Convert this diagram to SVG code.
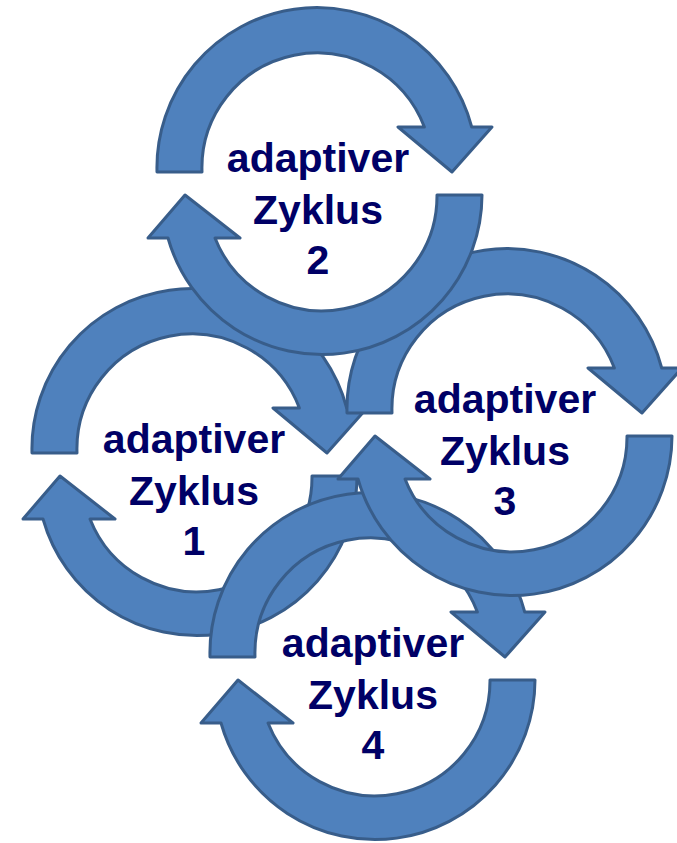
<svg xmlns="http://www.w3.org/2000/svg" xmlns:xlink="http://www.w3.org/1999/xlink" width="677" height="843" viewBox="0 0 677 843">
<style>
.arc{fill:#4F81BD;stroke:#385D8A;stroke-width:3;stroke-linejoin:round}
.lbl{font-family:"Liberation Sans",Arial,sans-serif;font-weight:bold;font-size:41px;fill:#000066;text-anchor:middle}
</style>
<defs>
<path id="arcTop" class="arc" d="M157,172 A160,160 0 0 1 471.7,127 L492,127 L452,172 L398,127 L424.4,127 A115,115 0 0 0 202,172 Z"/>
<path id="arcBot" class="arc" d="M482,195 A160,160 0 0 1 168,238 L148,238 L185,195 L240,238 L215,238 A115,115 0 0 0 437,195 Z"/>
</defs>
<rect width="677" height="843" fill="#ffffff"/>
<g id="cycle1" transform="translate(-125,281)">
<use href="#arcTop"/><use href="#arcBot"/>
<text class="lbl" x="319" y="172">adaptiver</text>
<text class="lbl" x="319" y="224">Zyklus</text>
<text class="lbl" x="319" y="274">1</text>
</g>
<g id="cycle4" transform="translate(53,485)">
<use href="#arcTop"/><use href="#arcBot"/>
<text class="lbl" x="320" y="172">adaptiver</text>
<text class="lbl" x="320" y="224">Zyklus</text>
<text class="lbl" x="320" y="274">4</text>
</g>
<g id="cycle3" transform="translate(190,241)">
<use href="#arcTop"/><use href="#arcBot"/>
<text class="lbl" x="315" y="172">adaptiver</text>
<text class="lbl" x="315" y="224">Zyklus</text>
<text class="lbl" x="315" y="274">3</text>
</g>
<g id="cycle2">
<use href="#arcTop"/><use href="#arcBot"/>
<text class="lbl" x="318" y="172">adaptiver</text>
<text class="lbl" x="318" y="224">Zyklus</text>
<text class="lbl" x="318" y="274">2</text>
</g>
</svg>
